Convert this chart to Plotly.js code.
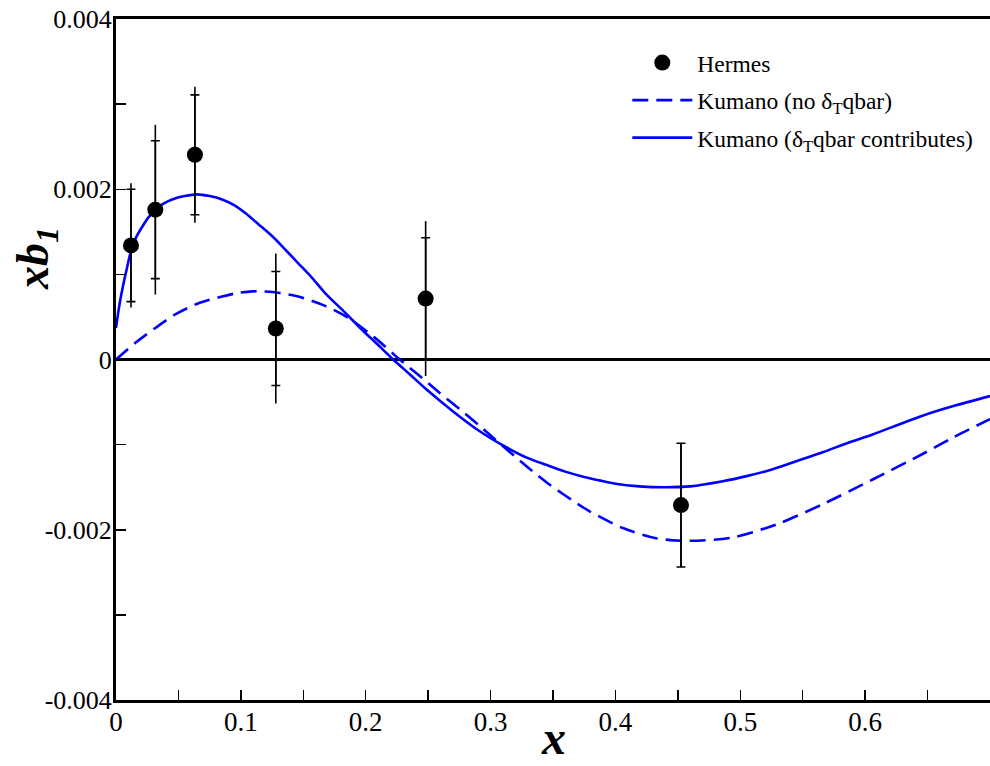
<!DOCTYPE html>
<html>
<head>
<meta charset="utf-8">
<script src="https://cdn.plot.ly/plotly-3.0.1.min.js"></script>
<style>
  html, body { margin: 0; padding: 0; background: #ffffff; }
  #chart { width: 990px; height: 766px; }
</style>
</head>
<body>
<div id="chart"></div>
<script>
// ---- Data ----
// Hermes data points
var hermesX = [0.012, 0.0315, 0.0632, 0.128, 0.248, 0.4525];
var hermesY = [0.00134, 0.00176, 0.002405, 0.000364, 0.000716, -0.00171];
// inner (statistical) errors, drawn with small caps
var hermesErrInner = [0.00066, 0.00081, 0.000704, 0.00067, 0.000715, 0.000727];
// outer (total) errors, drawn without caps
var hermesErrOuter = [0.00073, 0.000997, 0.000798, 0.00088, 0.00091, 0.000727];

// Kumano, delta_T qbar contributes (solid)
var solidX = [0.000, 0.0025, 0.005, 0.009, 0.013, 0.017, 0.021, 0.026, 0.0315, 0.038,
              0.045, 0.055, 0.065, 0.075, 0.085, 0.095, 0.1035, 0.114, 0.125, 0.135,
              0.146, 0.157, 0.1675, 0.1835, 0.197, 0.21, 0.222, 0.235, 0.2485, 0.27,
              0.291, 0.31, 0.3285, 0.345, 0.3605, 0.375, 0.387, 0.40, 0.419, 0.44,
              0.46, 0.486, 0.505, 0.526, 0.546, 0.566, 0.586, 0.606, 0.626, 0.646,
              0.67, 0.700];
var solidY = [0.00037, 0.00062, 0.00082, 0.00109, 0.00133, 0.00146, 0.00156, 0.00167, 0.00176, 0.00183,
              0.00188, 0.00192, 0.00194, 0.00192, 0.00188, 0.00181, 0.00172, 0.00159, 0.00145, 0.00130,
              0.00113, 0.00096, 0.00078, 0.00055, 0.00035, 0.00017, 0.00000, -0.00017, -0.00035, -0.00061,
              -0.00084, -0.00101, -0.00115, -0.00124, -0.00132, -0.00138, -0.00142, -0.00146, -0.00149, -0.00150,
              -0.00149, -0.00143, -0.00137, -0.00129, -0.00119, -0.00109, -0.00098, -0.00088, -0.00077, -0.00066,
              -0.00055, -0.00043];

// Kumano, no delta_T qbar (dashed)
var dashX = [0.000, 0.0155, 0.0315, 0.0475, 0.066, 0.085, 0.097, 0.109, 0.118, 0.127,
             0.146, 0.1675, 0.186, 0.207, 0.2272, 0.243, 0.259, 0.275, 0.2912, 0.31,
             0.3285, 0.3445, 0.36, 0.379, 0.406, 0.4325, 0.459, 0.494, 0.5285, 0.566,
             0.606, 0.646, 0.67, 0.700];
var dashY = [0.00000, 0.000196, 0.00037, 0.00053, 0.00066, 0.00074, 0.00078, 0.00080, 0.00080, 0.00079,
             0.00074, 0.00063, 0.00049, 0.00026, 0.00000, -0.00019, -0.00039, -0.00058, -0.00078, -0.00102,
             -0.00125, -0.00144, -0.00160, -0.00178, -0.00198, -0.00210, -0.00213, -0.00209, -0.00194, -0.00170,
             -0.00141, -0.00111, -0.00092, -0.00070];

// Tick positions and labels
var xTickVals = [0, 0.05, 0.1, 0.15, 0.2, 0.25, 0.3, 0.35, 0.4, 0.45, 0.5, 0.55, 0.6, 0.65];
var xTickText = ['0', '', '0.1', '', '0.2', '', '0.3', '', '0.4', '', '0.5', '', '0.6', ''];
var yTickVals = [-0.004, -0.003, -0.002, -0.001, 0, 0.001, 0.002, 0.003, 0.004];
var yTickText = ['-0.004', '', '-0.002', '', '0', '', '0.002', '', '0.004'];

var legendNames = ['Hermes', 'Kumano (no δ<sub>T</sub>qbar)', 'Kumano (δ<sub>T</sub>qbar contributes)'];
var xTitle = 'x';
var yTitle = 'xb<sub>1</sub>';

var serif = 'Liberation Serif';

var traces = [
  {
    x: dashX, y: dashY, type: 'scatter', mode: 'lines',
    name: legendNames[1], legendgroup: 'b', legendrank: 2,
    line: { color: '#0000ff', width: 2.6, dash: '16px,8px', shape: 'spline', smoothing: 0.8 }
  },
  {
    x: solidX, y: solidY, type: 'scatter', mode: 'lines',
    name: legendNames[2], legendgroup: 'c', legendrank: 3,
    line: { color: '#0000ff', width: 2.6, shape: 'spline', smoothing: 0.8 }
  },
  {
    x: hermesX, y: hermesY, type: 'scatter', mode: 'markers',
    showlegend: false, hoverinfo: 'skip',
    marker: { color: 'rgba(0,0,0,0)', size: 1 },
    error_y: { type: 'data', array: hermesErrOuter, visible: true, color: '#000000', thickness: 1.6, width: 0 }
  },
  {
    x: hermesX, y: hermesY, type: 'scatter', mode: 'markers',
    name: legendNames[0], legendgroup: 'a', legendrank: 1,
    marker: { color: '#000000', size: 16 },
    error_y: { type: 'data', array: hermesErrInner, visible: true, color: '#000000', thickness: 1.6, width: 4.5 }
  }
];

var titleFont = { family: serif, color: '#000000', weight: 'bold', style: 'italic' };

var layout = {
  width: 990, height: 766,
  margin: { l: 116, r: 0, t: 19, b: 66 },
  paper_bgcolor: '#ffffff', plot_bgcolor: '#ffffff',
  font: { family: serif, color: '#000000' },
  showlegend: true,
  legend: {
    x: 0.585, y: 0.968, xanchor: 'left', yanchor: 'top',
    bgcolor: 'rgba(0,0,0,0)', borderwidth: 0,
    font: { family: serif, size: 23.5, color: '#000000' },
    tracegroupgap: 4, itemwidth: 60
  },
  xaxis: {
    range: [0, 0.7], showgrid: false, zeroline: false,
    showline: true, linecolor: '#000000', linewidth: 3, mirror: true,
    tickmode: 'array', tickvals: xTickVals, ticktext: xTickText,
    ticks: 'inside', ticklen: 10, tickwidth: 1.5, tickcolor: '#000000',
    tickfont: { family: serif, size: 27, color: '#000000' },
    ticklabelstandoff: -4
  },
  yaxis: {
    range: [-0.004, 0.004], showgrid: false,
    zeroline: true, zerolinecolor: '#000000', zerolinewidth: 3,
    showline: true, linecolor: '#000000', linewidth: 3, mirror: true,
    tickmode: 'array', tickvals: yTickVals, ticktext: yTickText,
    ticks: 'inside', ticklen: 10, tickwidth: 1.5, tickcolor: '#000000',
    tickfont: { family: serif, size: 26, color: '#000000' },
    ticklabelstandoff: -4
  },
  annotations: [
    {
      text: yTitle, xref: 'paper', yref: 'paper',
      x: -0.0915, y: 0.6476, xanchor: 'center', yanchor: 'middle',
      textangle: -90, showarrow: false,
      font: Object.assign({ size: 46 }, titleFont)
    },
    {
      text: xTitle, xref: 'paper', yref: 'paper',
      x: 0.5, y: -0.0965, xanchor: 'center', yanchor: 'bottom',
      showarrow: false,
      font: Object.assign({ size: 48 }, titleFont)
    }
  ]
};

Plotly.newPlot('chart', traces, layout, { displayModeBar: false, staticPlot: true });
</script>
</body>
</html>
